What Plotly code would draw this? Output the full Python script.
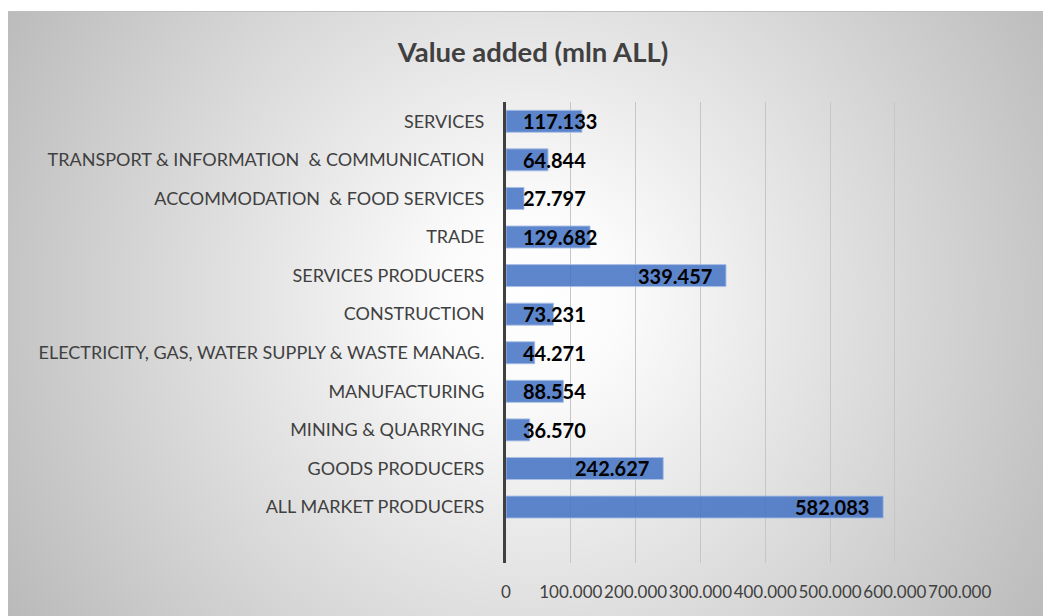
import base64
import plotly.graph_objects as go

# ---- data (bottom -> top order as drawn) ----
categories = [
    "ALL MARKET PRODUCERS",
    "GOODS PRODUCERS",
    "MINING & QUARRYING",
    "MANUFACTURING",
    "ELECTRICITY, GAS, WATER SUPPLY & WASTE MANAG.",
    "CONSTRUCTION",
    "SERVICES PRODUCERS",
    "TRADE",
    "ACCOMMODATION  & FOOD SERVICES",
    "TRANSPORT & INFORMATION  & COMMUNICATION",
    "SERVICES",
]
values = [582.083, 242.627, 36.570, 88.554, 44.271, 73.231,
          339.457, 129.682, 27.797, 64.844, 117.133]
value_labels = ["582.083", "242.627", "36.570", "88.554", "44.271", "73.231",
                "339.457", "129.682", "27.797", "64.844", "117.133"]
tick_values = [0, 100, 200, 300, 400, 500, 600, 700]
tick_labels = ["0", "100.000", "200.000", "300.000", "400.000",
               "500.000", "600.000", "700.000"]
title_text = "Value added (mln ALL)"

# ---- layout constants (page body has an 8px margin) ----
W, H = 1043, 608
ML, MR, MT, MB = 498, 91, 94, 53
PW, PH = W - ML - MR, H - MT - MB

# radial gradient background as an SVG image
svg = f'''<svg xmlns="http://www.w3.org/2000/svg" width="{W}" height="{H}" viewBox="0 0 {W} {H}">
<defs><radialGradient id="g" gradientUnits="userSpaceOnUse" cx="524" cy="292" r="610">
<stop offset="0" stop-color="#ffffff"/><stop offset="0.15" stop-color="#fbfbfb"/>
<stop offset="1" stop-color="#bababa"/></radialGradient></defs>
<rect x="0" y="0" width="{W}" height="{H}" fill="#ffffff"/>
<rect x="-0.5" y="3.5" width="{W + 10}" height="{H + 10}" fill="url(#g)" stroke="#bdbdbd" stroke-width="1"/>
</svg>'''
bg_uri = "data:image/svg+xml;base64," + base64.b64encode(svg.encode()).decode()

FONT = "Lato, 'Open Sans', sans-serif"

fig = go.Figure()
fig.add_trace(go.Bar(
    x=values, y=categories, orientation="h",
    marker=dict(color="rgba(68,114,196,0.86)",
                line=dict(color="rgba(170,192,230,0.9)", width=1)),
    hoverinfo="skip",
))

annotations = []
for v, c, lab in zip(values, categories, value_labels):
    if v >= 150:
        annotations.append(dict(x=v, y=c, xref="x", yref="y", text=f"<b>{lab}</b>",
                                showarrow=False, xanchor="right", xshift=-12,
                                font=dict(family=FONT, size=20, color="#000000")))
    else:
        annotations.append(dict(x=0, y=c, xref="x", yref="y", text=f"<b>{lab}</b>",
                                showarrow=False, xanchor="left", xshift=15,
                                font=dict(family=FONT, size=20, color="#000000")))

fig.update_layout(
    width=W, height=H,
    autosize=False,
    margin=dict(l=ML, r=MR, t=MT, b=MB, pad=0, autoexpand=False),
    paper_bgcolor="#ffffff",
    plot_bgcolor="rgba(0,0,0,0)",
    showlegend=False,
    bargap=0.43,
    title=dict(text=f"<b>{title_text}</b>", x=525 / W, xanchor="center",
               y=1 - 44 / H, yanchor="middle",
               font=dict(family=FONT, size=27.5, color="#404040")),
    font=dict(family=FONT, color="#404040"),
    annotations=annotations,
    images=[dict(source=bg_uri, xref="paper", yref="paper",
                 x=-ML / PW, y=1 + MT / PH, sizex=W / PW, sizey=H / PH,
                 xanchor="left", yanchor="top", sizing="stretch", layer="below")],
    xaxis=dict(range=[0, 700.5], tickmode="array", tickvals=tick_values,
               ticktext=tick_labels, showgrid=True, gridcolor="#c6c6c6", gridwidth=1,
               zeroline=False, showline=False, ticks="", tickangle=0,
               automargin=False, ticklabelstandoff=17,
               tickfont=dict(family=FONT, size=17, color="#404040")),
    yaxis=dict(type="category", categoryorder="array", categoryarray=categories,
               range=[-1.45, 10.5], showgrid=False, zeroline=False,
               showline=True, linecolor="#404040", linewidth=3, ticks="",
               automargin=False, ticklabelstandoff=15,
               tickfont=dict(family=FONT, size=18, color="#404040")),
)

fig.write_html("out.html")
